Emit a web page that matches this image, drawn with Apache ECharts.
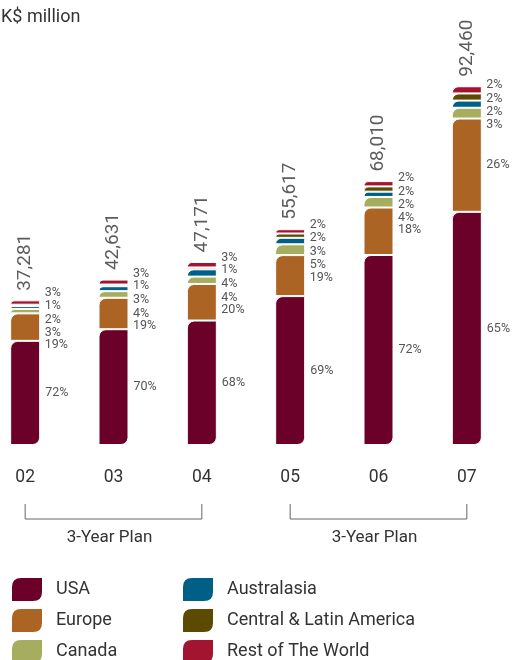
<!DOCTYPE html>
<html>
<head>
<meta charset="utf-8">
<script src="https://cdn.jsdelivr.net/npm/echarts@6/dist/echarts.min.js"></script>
<style>
  html, body { margin: 0; padding: 0; background: #fff; }
  #chart { width: 519px; height: 660px; }
</style>
</head>
<body>
<div id="chart"></div>
<script>
// Sales by region, K$ million, with each region's share of the year's total
const years = ['02', '03', '04', '05', '06', '07'];
const totals = [37281, 42631, 47171, 55617, 68010, 92460];
const regions = ['USA', 'Europe', 'Canada', 'Australasia', 'Central & Latin America', 'Rest of The World'];

// share of the total, %
const usaPct = [72, 70, 68, 69, 72, 65];
const europePct = [19, 19, 20, 19, 18, 26];
const canadaPct = [3, 4, 4, 5, 4, 3];
const australasiaPct = [2, 3, 4, 3, 2, 2];
const latinPct = [1, 1, 1, 2, 2, 2];
const restPct = [3, 3, 3, 2, 2, 2];

const planLabel = '3-Year Plan';
const planRanges = [[0, 2], [3, 5]];

const shares = [usaPct, europePct, canadaPct, australasiaPct, latinPct, restPct];
const colors = ['#6b0028', '#ab6424', '#a7ad5f', '#005f87', '#5c4a00', '#a2142f'];
const FONT = 'Roboto, "Liberation Sans", sans-serif';
const BORDER = 1;

const valueOf = (s, i) => totals[i] * shares[s][i] / 100;

// Labels of the thin upper segments are stacked beside the bar so they do not collide
function stackedLabelY(s, i, rect) {
  const h0 = rect.height - BORDER;
  const y0 = rect.y + BORDER / 2;
  const px = h0 / valueOf(s, i);
  let above = 0;
  for (let k = s + 1; k < shares.length; k++) above += valueOf(k, i);
  const top = y0 - px * above;
  const items = [];
  let acc = 0;
  for (let k = shares.length - 1; k >= 1; k--) {
    const h = valueOf(k, i) * px;
    items.push({ k: k, c: top + acc + h / 2 });
    acc += h;
  }
  const GAP = 12.5;
  const out = {};
  let cluster = [];
  const flush = () => {
    if (!cluster.length) return;
    const avg = cluster.reduce((a, o) => a + (o.p - o.c), 0) / cluster.length;
    cluster.forEach(o => { out[o.k] = o.p - avg * 0.5; });
    cluster = [];
  };
  items.forEach(o => {
    const last = cluster[cluster.length - 1];
    if (last && o.c < last.p + GAP) {
      o.p = last.p + GAP;
    } else {
      flush();
      o.p = o.c;
    }
    cluster.push(o);
  });
  flush();
  return out[s];
}

const leaf = 'path://M10,0 L32,0 L32,15 Q32,25 22,25 L0,25 L0,10 Q0,0 10,0 Z';

const barSeries = regions.map((name, s) => ({
  name: name,
  type: 'bar',
  stack: 'total',
  barWidth: 30,
  data: years.map((_, i) => valueOf(s, i)),
  itemStyle: {
    color: colors[s],
    borderColor: '#ffffff',
    borderWidth: BORDER,
    borderRadius: s === 0 ? [7, 0, 7, 0] : [7, 0, 0, 0]
  },
  label: {
    show: true,
    position: 'right',
    distance: 5,
    fontFamily: FONT,
    fontSize: 12.5,
    color: '#555',
    formatter: p => shares[s][p.dataIndex] + '%'
  },
  labelLayout: s === 0 ? null : function (params) {
    return {
      x: params.rect.x + params.rect.width + 5 - BORDER / 2,
      y: stackedLabelY(s, params.dataIndex, params.rect),
      align: 'left',
      verticalAlign: 'middle'
    };
  },
  emphasis: { disabled: true }
}));

const totalSeries = {
  name: 'Total',
  type: 'scatter',
  symbolSize: 1,
  itemStyle: { color: 'rgba(0,0,0,0)' },
  data: years.map((y, i) => [i, totals[i]]),
  label: {
    show: true,
    position: 'top',
    distance: 9,
    rotate: 90,
    align: 'left',
    verticalAlign: 'middle',
    fontFamily: FONT,
    fontSize: 19,
    color: '#333',
    formatter: p => totals[p.dataIndex].toLocaleString('en-US')
  },
  emphasis: { disabled: true },
  z: 5
};

const legendBase = {
  orient: 'vertical',
  top: 571,
  height: 100,
  itemWidth: 32,
  itemHeight: 25,
  itemGap: 4,
  icon: leaf,
  selectedMode: false,
  textStyle: { fontFamily: FONT, fontSize: 18, color: '#333', padding: [0, 0, 0, 8] }
};

const chart = echarts.init(document.getElementById('chart'), null, { renderer: 'canvas' });
chart.setOption({
  animation: false,
  backgroundColor: '#ffffff',
  title: {
    text: 'K$ million',
    left: -4,
    top: 3,
    textStyle: { fontFamily: FONT, fontSize: 18, fontWeight: 'normal', color: '#333' }
  },
  legend: [
    Object.assign({}, legendBase, { left: 5, data: regions.slice(0, 3) }),
    Object.assign({}, legendBase, { left: 176, data: regions.slice(3) })
  ],
  grid: { left: -19, right: 8, top: 57, bottom: 215, outerBoundsMode: 'none', containLabel: false },
  xAxis: {
    type: 'category',
    data: years,
    axisLine: { show: false },
    axisTick: { show: false },
    axisLabel: { margin: 24, fontFamily: FONT, fontSize: 17.5, color: '#333' }
  },
  yAxis: {
    type: 'value',
    min: 0,
    max: 100000,
    show: false,
    splitLine: { show: false }
  },
  series: barSeries.concat([totalSeries])
});

// brackets grouping the years into plan periods
const xs = years.map((_, i) => chart.convertToPixel({ xAxisIndex: 0 }, i));
const graphics = [];
planRanges.forEach(([a, b]) => {
  graphics.push({
    type: 'polyline',
    shape: { points: [[xs[a], 504], [xs[a], 519], [xs[b], 519], [xs[b], 504]] },
    style: { stroke: '#666', lineWidth: 1, fill: null }
  });
  graphics.push({
    type: 'text',
    x: (xs[a] + xs[b]) / 2 - 4,
    y: 538,
    style: {
      text: planLabel,
      fontFamily: FONT,
      fontSize: 17,
      fill: '#333',
      align: 'center',
      verticalAlign: 'middle'
    }
  });
});
chart.setOption({ graphic: graphics });
</script>
</body>
</html>
